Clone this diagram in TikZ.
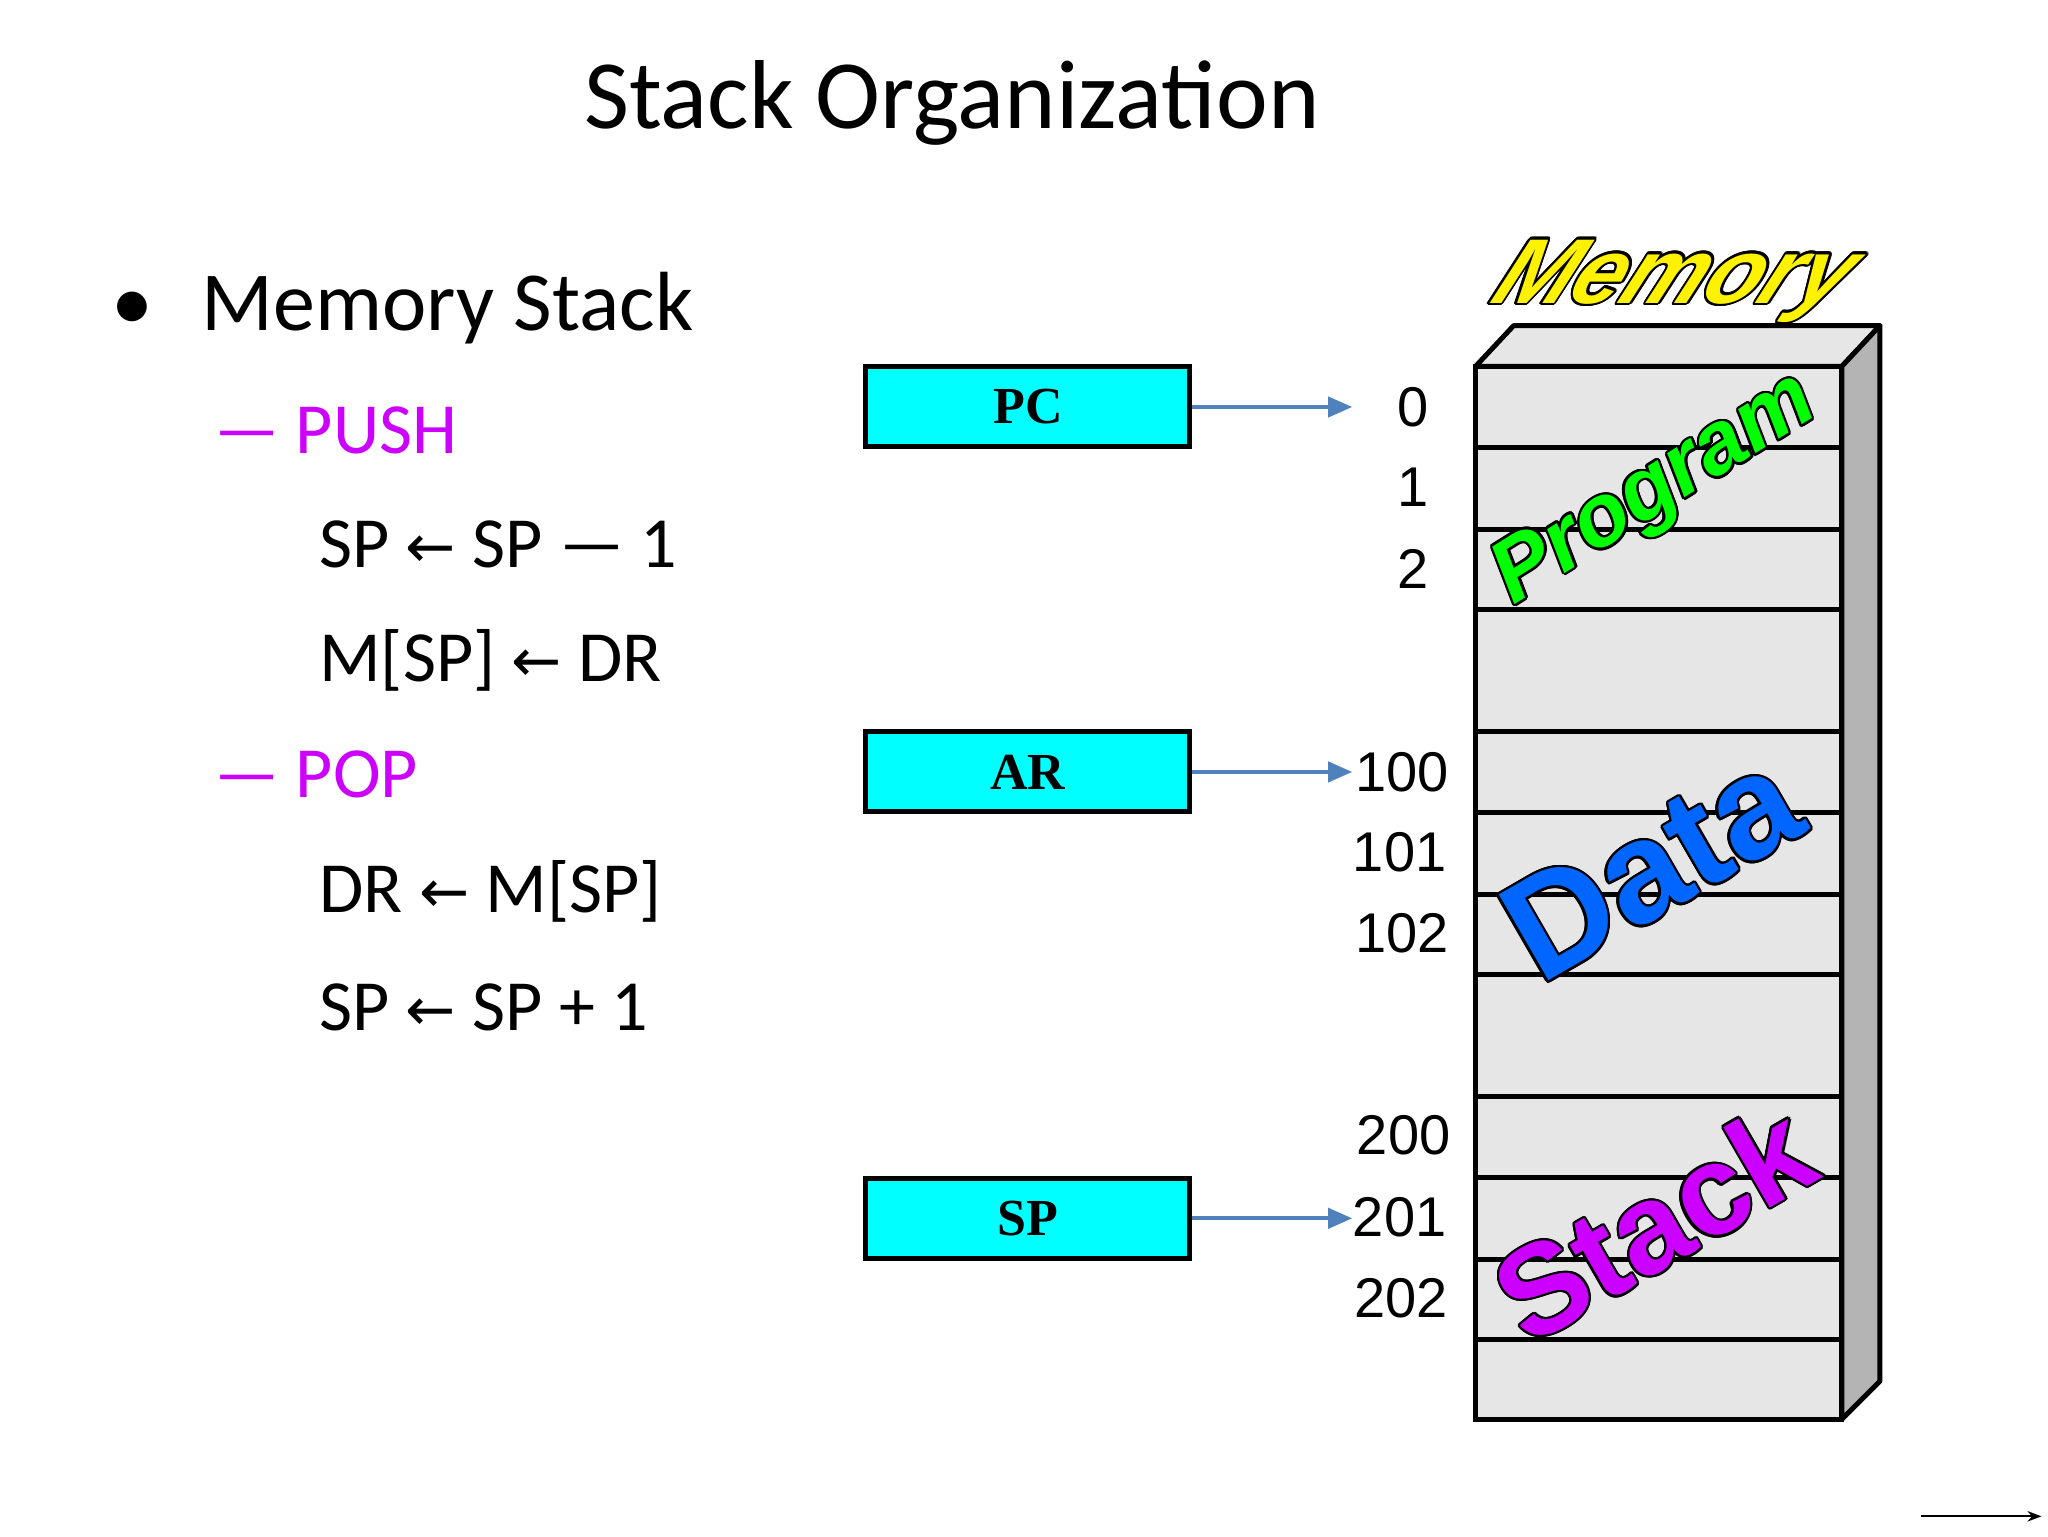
\documentclass[tikz,border=0pt]{standalone}
\usepackage{fontspec}
\usepackage{contour}
\setmainfont{Carlito}
\newfontfamily\ser{Liberation Serif}
\newfontfamily\san{Liberation Sans}
\newfontfamily\djv{DejaVu Sans}
\newcommand{\lar}{{\djv\fontsize{30}{30}\selectfont ←}}
\contourlength{1.2pt}
\definecolor{mag}{HTML}{CC00FF}
\definecolor{arr}{HTML}{4F81BD}
\definecolor{face}{HTML}{E6E6E6}
\definecolor{side}{HTML}{B4B4B4}
\definecolor{cy}{HTML}{00FFFF}
\usetikzlibrary{arrows.meta}
\begin{document}
\begin{tikzpicture}[x=0.6565pt,y=-0.6565pt,
  reg/.style={draw=black,line width=2.5pt,fill=cy,minimum width=162pt,minimum height=40pt,inner sep=0pt,font=\ser\bfseries\fontsize{26}{26}\selectfont},
  ptr/.style={arr,line width=2pt,-{Triangle[length=12pt,width=10pt]}},
  num/.style={font=\san\fontsize{28}{28}\selectfont,inner sep=0pt},
  body/.style={font=\fontsize{36}{36}\selectfont,anchor=west,inner sep=0pt},
  big/.style={font=\san\bfseries\itshape\fontsize{44}{44}\selectfont,inner sep=0pt}]
\useasboundingbox (0,0) rectangle (1560,1170);
\node (title) at (725,78) {\fontsize{49}{49}\selectfont Stack Organization};
\node[body,font=\fontsize{42}{42}\selectfont] (bul) at (85,235) {\textbullet\hspace{24pt}Memory Stack};
\node[body,text=mag] (push) at (163,328) {— PUSH};
\node[body] (l1) at (243,415) {SP \lar{} SP — 1};
\node[body] (l2) at (243,503) {M[SP] \lar{} DR};
\node[body,text=mag] (pop) at (163,590) {— POP};
\node[body] (l3) at (243,679) {DR \lar{} M[SP]};
\node[body] (l4) at (243,767) {SP \lar{} SP + 1};
% memory
\filldraw[fill=face,line width=2.5pt,line join=round] (1124,279) -- (1153,248) -- (1432,248) -- (1403,279) -- cycle;
\filldraw[fill=side,line width=2.5pt,line join=round] (1403,279) -- (1432,248) -- (1432,1052) -- (1403,1081) -- cycle;
\filldraw[fill=face,line width=2.5pt] (1124,279) rectangle (1403,1081);
\foreach \y in {341,403,464,557,619,681,742,835,897,959,1020}
  \draw[line width=2.5pt] (1124,\y) -- (1403,\y);
\node[big,xslant=0.45,font=\san\bfseries\itshape\fontsize{46}{46}\selectfont] (mem) at (1275,215) {\contour{black}{\textcolor{yellow}{Memory}}};
\node[big,rotate=32] (prog) at (1262,375) {\contour{black}{\textcolor{green}{Program}}};
\node[big,rotate=30,font=\san\bfseries\fontsize{72}{72}\selectfont] (data) at (1258,660) {\contour{black}{\textcolor[HTML]{0066FF}{Data}}};
\node[big,rotate=30,font=\san\bfseries\fontsize{64}{64}\selectfont] (stk) at (1260,932) {\contour{black}{\textcolor{mag}{Stack}}};
% registers
\node[reg] (pc) at (783,310) {PC};
\node[reg] (ar) at (783,588) {AR};
\node[reg] (sp) at (783,928) {SP};
\coordinate (a0) at (1030,310);
\coordinate (a1) at (1030,588);
\coordinate (a2) at (1030,928);
\draw[ptr] (pc.east) -- (a0);
\draw[ptr] (ar.east) -- (a1);
\draw[ptr] (sp.east) -- (a2);
\node[num] (n0) at (1076,310) {0};
\node[num] (n1) at (1076,371) {1};
\node[num] (n2) at (1076,433) {2};
\node[num,anchor=east] (n100) at (1104,588) {100};
\node[num,anchor=east] (n101) at (1102,649) {101};
\node[num,anchor=east] (n102) at (1104,711) {102};
\node[num,anchor=east] (n200) at (1105,865) {200};
\node[num,anchor=east] (n201) at (1102,927) {201};
\node[num,anchor=east] (n202) at (1103,989) {202};
\coordinate (s1) at (1463,1155);
\coordinate (s2) at (1555,1155);
\draw[line width=1pt,-{Stealth[length=7pt]}] (s1) -- (s2);
\end{tikzpicture}
\end{document}
